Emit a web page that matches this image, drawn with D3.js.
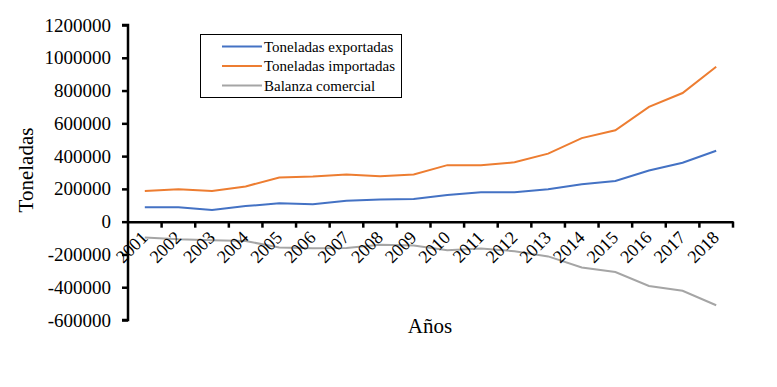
<!DOCTYPE html>
<html>
<head>
<meta charset="utf-8">
<script src="https://cdn.jsdelivr.net/npm/d3@7/dist/d3.min.js"></script>
<style>
  body { margin: 0; background: #fff; }
</style>
</head>
<body>
<svg id="chart" width="777" height="387" font-family="Liberation Serif"></svg>
<script>
// Values
const years = ['2001','2002','2003','2004','2005','2006','2007','2008','2009',
               '2010','2011','2012','2013','2014','2015','2016','2017','2018'];
const exportadas = [88000, 88000, 71000, 95000, 112000, 106000, 128000, 136000, 138000,
                    163000, 180000, 180000, 198000, 228000, 248000, 312000, 360000, 433000];
const importadas = [187000, 198000, 187000, 215000, 270000, 276000, 288000, 277000, 288000,
                    345000, 345000, 362000, 415000, 510000, 558000, 700000, 785000, 945000];
const balanza = [-97000, -108000, -113000, -118000, -158000, -162000, -160000, -141000, -146000,
                 -175000, -164000, -180000, -212000, -280000, -307000, -392000, -422000, -510000];
const yTicks = [-600000, -400000, -200000, 0, 200000, 400000, 600000, 800000, 1000000, 1200000];

const series = [
  { name: 'Toneladas exportadas', values: exportadas, color: '#4472C4' },
  { name: 'Toneladas importadas', values: importadas, color: '#ED7D31' },
  { name: 'Balanza comercial', values: balanza, color: '#A5A5A5' }
];

const svg = d3.select('#chart');

const x = d3.scaleBand().domain(years).range([128, 733]);
const y = d3.scaleLinear().domain([-600000, 1200000]).range([320, 25]);

// plain hyphen for negatives, like the original
const fmt = d3.formatLocale({ decimal: '.', thousands: '', grouping: [3], currency: ['', ''], minus: '-' }).format('d');

// Lines
const line = d3.line()
  .x((d, i) => x(years[i]) + x.bandwidth() / 2)
  .y(d => y(d));

series.forEach(s => {
  svg.append('path')
    .datum(s.values)
    .attr('fill', 'none')
    .attr('stroke', s.color)
    .attr('stroke-width', 2)
    .attr('d', line);
});

// Y axis
const yAxis = svg.append('g')
  .attr('transform', 'translate(128,0)')
  .call(d3.axisLeft(y).tickValues(yTicks).tickSize(6).tickPadding(11).tickFormat(fmt));
yAxis.attr('font-family', null).attr('font-size', null);
yAxis.select('.domain').attr('stroke-width', 2.5).attr('d', `M-6,${y(1200000)}H0V${y(-600000)}H-6`);
yAxis.selectAll('.tick line').attr('stroke-width', 2.5);
yAxis.selectAll('.tick text')
  .attr('fill', '#000')
  .attr('font-size', 19);

// X axis at zero
const xAxis = svg.append('g')
  .attr('transform', `translate(0,${y(0)})`)
  .call(d3.axisBottom(x).tickSize(0).tickFormat(''));
xAxis.select('.domain').attr('stroke-width', 2.5);
xAxis.selectAll('.tick').remove();

xAxis.selectAll('.xtick')
  .data(years)
  .enter()
  .append('line')
  .attr('x1', d => x(d) + x.bandwidth())
  .attr('x2', d => x(d) + x.bandwidth())
  .attr('y1', 0)
  .attr('y2', 6)
  .attr('stroke', '#000')
  .attr('stroke-width', 2.5);

svg.append('g').selectAll('text')
  .data(years)
  .enter()
  .append('text')
  .attr('x', d => x(d) + x.bandwidth() / 2 + 4)
  .attr('y', y(0) + 17)
  .attr('transform', d => `rotate(-45,${x(d) + x.bandwidth() / 2 + 4},${y(0) + 17})`)
  .attr('text-anchor', 'end')
  .attr('font-size', 18)
  .text(d => d);

// Axis titles
svg.append('text')
  .attr('transform', 'translate(33,170) rotate(-90)')
  .attr('text-anchor', 'middle')
  .attr('font-size', 21)
  .text('Toneladas');

svg.append('text')
  .attr('x', 430)
  .attr('y', 333)
  .attr('text-anchor', 'middle')
  .attr('font-size', 21)
  .text('Años');

// Legend
const legend = svg.append('g');
legend.append('rect')
  .attr('x', 200.5).attr('y', 34.5)
  .attr('width', 201).attr('height', 63)
  .attr('fill', '#fff').attr('stroke', '#000').attr('stroke-width', 1);

series.forEach((s, i) => {
  const ly = 46.5 + i * 19.5;
  legend.append('line')
    .attr('x1', 222).attr('x2', 262)
    .attr('y1', ly).attr('y2', ly)
    .attr('stroke', s.color).attr('stroke-width', 2);
  legend.append('text')
    .attr('x', 264).attr('y', ly + 5)
    .attr('font-size', 15)
    .text(s.name);
});

svg.selectAll('text').attr('font-family', 'Liberation Serif').attr('fill', '#000');
</script>
</body>
</html>
